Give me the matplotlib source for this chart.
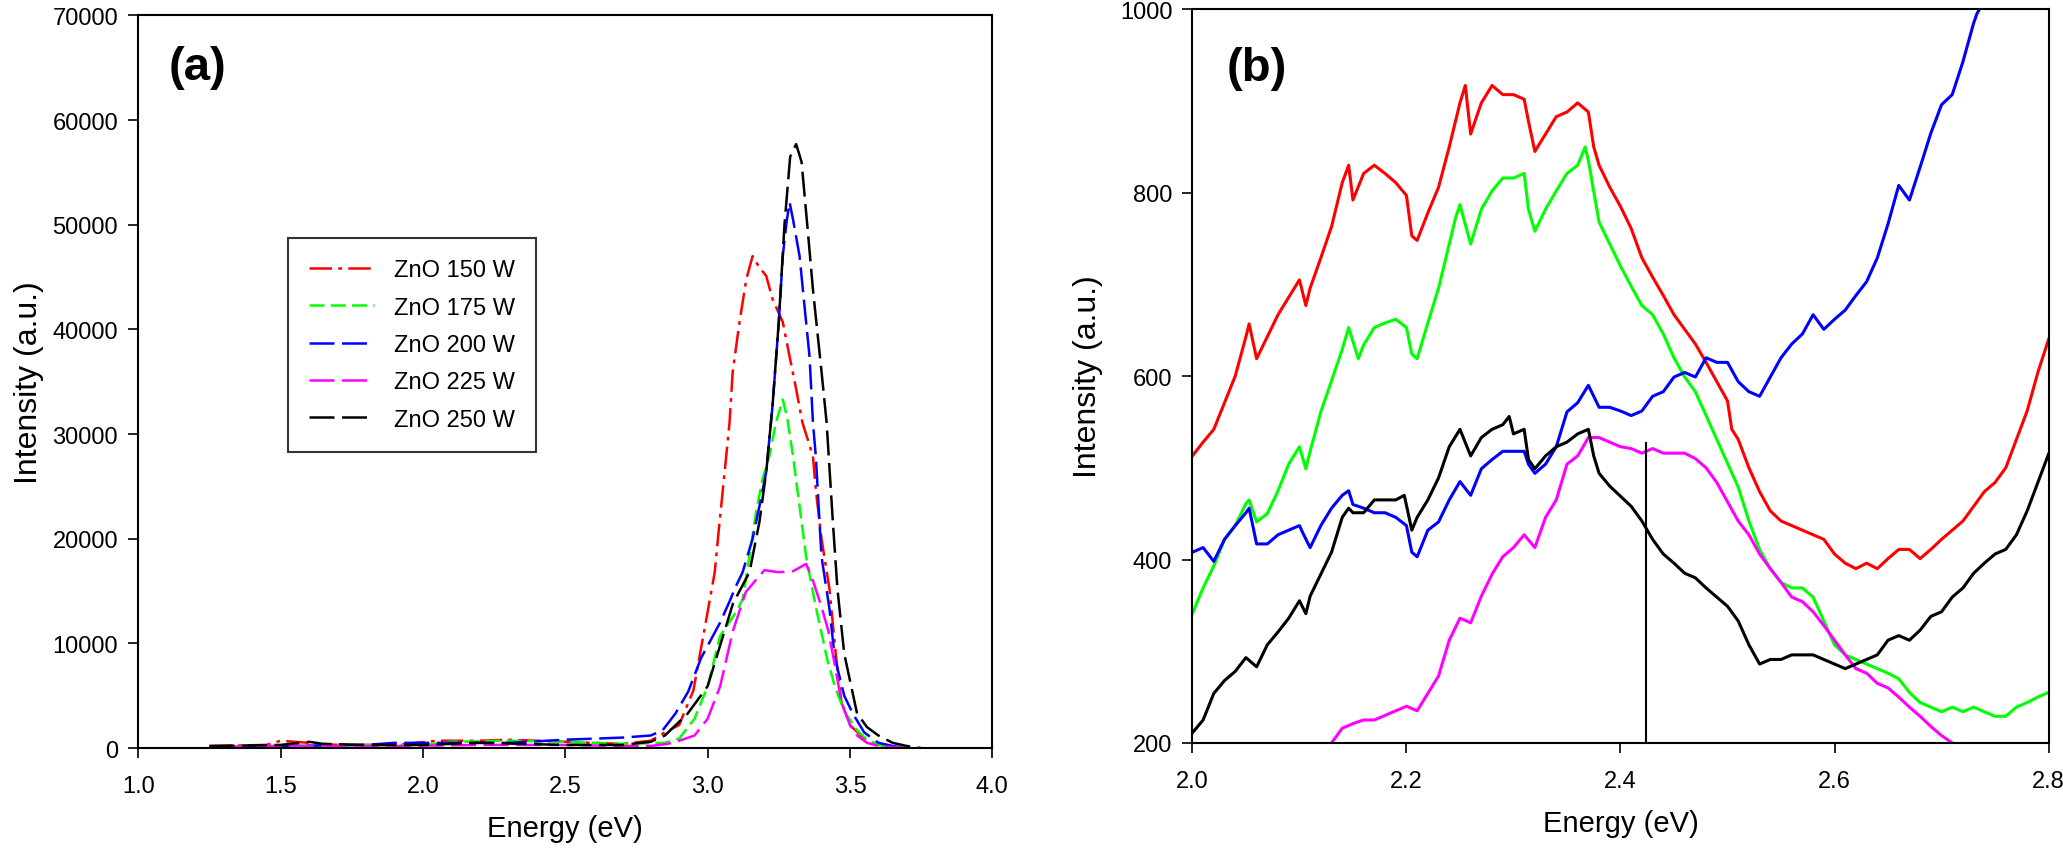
import matplotlib
matplotlib.use("Agg")
import matplotlib.pyplot as plt

plt.rcParams['font.family'] = ['Liberation Sans', 'DejaVu Sans']

# ---- panel (a): full PL spectra ----
labels_a = ['ZnO 150 W', 'ZnO 175 W', 'ZnO 200 W', 'ZnO 225 W', 'ZnO 250 W']

e_150 = [1.25, 1.45, 1.5, 1.55, 1.6, 1.7, 1.9, 2.05, 2.2, 2.3, 2.5, 2.7, 2.8, 2.85, 2.9, 2.95, 3.0,
         3.025, 3.042, 3.06, 3.077, 3.088, 3.112, 3.136, 3.158, 3.18, 3.206, 3.228, 3.264, 3.288,
         3.311, 3.333, 3.37, 3.38, 3.40, 3.428, 3.45, 3.47, 3.5, 3.55, 3.6, 3.65, 3.7]
i_150 = [200, 300, 700, 600, 500, 300, 300, 700, 700, 800, 600, 400, 700, 1500, 2200, 5500, 13000,
         16800, 21600, 26400, 31100, 35900, 40700, 44800, 47000, 46000, 45100, 42900, 40700, 37400,
         34300, 31100, 27900, 24700, 20000, 15200, 9000, 4400, 2200, 900, 300, 100, 0]

e_175 = [1.25, 1.5, 1.7, 2.0, 2.1, 2.3, 2.5, 2.7, 2.85, 2.9, 2.954, 3.0, 3.044, 3.1, 3.123, 3.147,
         3.17, 3.193, 3.217, 3.24, 3.264, 3.28, 3.30, 3.323, 3.346, 3.38, 3.42, 3.447, 3.48, 3.525,
         3.56, 3.6, 3.65, 3.7]
i_175 = [100, 200, 300, 300, 600, 700, 600, 400, 500, 900, 2800, 5900, 10700, 13000, 14200, 18300,
         22500, 25700, 27900, 31100, 33300, 31500, 27900, 23100, 18300, 13500, 8500, 5900, 3500, 1700,
         800, 300, 100, 0]

e_200 = [1.25, 1.5, 1.8, 1.9, 2.1, 2.3, 2.5, 2.7, 2.8, 2.842, 2.887, 2.932, 2.977, 3.044, 3.077,
         3.10, 3.123, 3.158, 3.182, 3.206, 3.228, 3.25, 3.264, 3.277, 3.288, 3.30, 3.323, 3.358, 3.37,
         3.38, 3.39, 3.40, 3.428, 3.447, 3.48, 3.51, 3.55, 3.6, 3.65, 3.7]
i_200 = [100, 200, 300, 500, 500, 500, 800, 1000, 1200, 1700, 3300, 5400, 8600, 12000, 14000,
         15500, 16800, 20000, 23100, 26400, 32700, 40700, 47000, 50200, 52150, 50500, 47000, 37400, 31100,
         27900, 23100, 18300, 13300, 8600, 5000, 3300, 1500, 500, 200, 0]

e_225 = [1.3, 1.4, 1.6, 1.9, 2.2, 2.5, 2.7, 2.8, 2.86, 2.9, 2.954, 3.0, 3.044, 3.089, 3.134, 3.18,
         3.2, 3.25, 3.30, 3.32, 3.346, 3.37, 3.40, 3.424, 3.45, 3.47, 3.5, 3.525, 3.56, 3.6, 3.65, 3.7]
i_225 = [100, 200, 200, 200, 300, 300, 200, 200, 400, 700, 1200, 2800, 5900, 11200, 14900, 16400,
         17000, 16800, 16900, 17200, 17600, 16000, 13500, 11200, 7500, 4400, 2200, 1200, 500, 200, 100, 0]

e_250 = [1.25, 1.5, 1.6, 1.65, 1.8, 2.0, 2.2, 2.5, 2.7, 2.8, 2.85, 2.93, 3.0, 3.089, 3.147, 3.182,
         3.206, 3.228, 3.25, 3.27, 3.29, 3.311, 3.33, 3.35, 3.37, 3.40, 3.418, 3.44, 3.456, 3.48,
         3.525, 3.56, 3.6, 3.65, 3.7, 3.75]
i_250 = [200, 300, 600, 400, 300, 300, 500, 300, 300, 600, 1200, 3300, 5900, 13800, 16800, 21600,
         26400, 32700, 40700, 50000, 56500, 57700, 56000, 50000, 43800, 36000, 31100, 21600, 15200, 9000,
         3300, 2000, 1200, 500, 200, 0]

# ---- panel (b): zoom of the visible band ----
e_red_b = [2.00, 2.01, 2.02, 2.03, 2.04, 2.05, 2.053, 2.06, 2.07, 2.08, 2.09, 2.10, 2.106, 2.11, 2.12,
           2.13, 2.14, 2.146, 2.15, 2.16, 2.17, 2.18, 2.19, 2.20, 2.205, 2.21, 2.22, 2.23, 2.24, 2.25,
           2.255, 2.26, 2.27, 2.28, 2.29, 2.30, 2.31, 2.314, 2.32, 2.33, 2.34, 2.35, 2.36, 2.37, 2.375,
           2.38, 2.39, 2.40, 2.41, 2.42, 2.43, 2.44, 2.45, 2.46, 2.47, 2.48, 2.49, 2.50, 2.504, 2.51,
           2.52, 2.53, 2.54, 2.55, 2.56, 2.57, 2.58, 2.59, 2.60, 2.61, 2.62, 2.63, 2.64, 2.65, 2.66,
           2.67, 2.68, 2.69, 2.70, 2.71, 2.72, 2.73, 2.74, 2.75, 2.76, 2.77, 2.78, 2.79, 2.80]
v_red_b = [513, 528, 542, 571, 600, 643, 657, 619, 643, 667, 686, 705, 677, 696, 729,
           763, 811, 830, 792, 821, 830, 821, 811, 797, 753, 748, 778, 806, 850, 898,
           917, 864, 898, 917, 907, 907, 902, 878, 845, 864, 883, 888, 898, 888, 850,
           830, 806, 785, 761, 729, 708, 688, 667, 651, 635, 615, 594, 573, 542, 531,
           500, 474, 453, 442, 437, 432, 427, 422, 406, 396, 390, 396, 390, 401, 411,
           411, 401, 411, 422, 432, 442, 458, 474, 484, 500, 531, 562, 604, 640]

e_green_b = [2.00, 2.01, 2.02, 2.03, 2.04, 2.05, 2.053, 2.06, 2.07, 2.08, 2.09, 2.10, 2.106, 2.11, 2.12,
             2.13, 2.14, 2.146, 2.15, 2.155, 2.16, 2.17, 2.18, 2.19, 2.20, 2.205, 2.21, 2.22, 2.23, 2.24,
             2.246, 2.25, 2.26, 2.27, 2.28, 2.29, 2.30, 2.31, 2.314, 2.32, 2.33, 2.34, 2.35, 2.36, 2.367,
             2.37, 2.38, 2.39, 2.40, 2.41, 2.42, 2.43, 2.44, 2.45, 2.46, 2.47, 2.48, 2.49, 2.50, 2.51,
             2.52, 2.53, 2.54, 2.55, 2.56, 2.57, 2.58, 2.59, 2.60, 2.61, 2.62, 2.63, 2.64, 2.65, 2.66,
             2.67, 2.68, 2.69, 2.70, 2.71, 2.72, 2.73, 2.74, 2.75, 2.76, 2.77, 2.78, 2.79, 2.80]
v_green_b = [341, 369, 393, 422, 437, 461, 465, 441, 450, 475, 504, 523, 499, 518, 561,
             595, 629, 653, 638, 619, 634, 653, 658, 662, 653, 624, 619, 658, 696, 744,
             773, 787, 744, 782, 802, 816, 816, 821, 782, 758, 782, 802, 821, 830, 850,
             835, 768, 744, 720, 698, 677, 667, 646, 620, 599, 583, 557, 531, 505, 479,
             442, 411, 390, 375, 369, 369, 359, 333, 307, 296, 291, 286, 281, 276, 270,
             255, 244, 239, 234, 239, 234, 239, 234, 229, 229, 239, 244, 250, 255]

e_blue_b = [2.00, 2.01, 2.02, 2.03, 2.04, 2.05, 2.053, 2.06, 2.07, 2.08, 2.09, 2.10, 2.104, 2.11, 2.12,
            2.13, 2.14, 2.146, 2.15, 2.16, 2.17, 2.18, 2.19, 2.20, 2.205, 2.21, 2.22, 2.23, 2.24, 2.25,
            2.26, 2.27, 2.28, 2.29, 2.30, 2.31, 2.314, 2.32, 2.33, 2.34, 2.35, 2.36, 2.37, 2.38, 2.39,
            2.40, 2.41, 2.42, 2.43, 2.44, 2.45, 2.46, 2.47, 2.48, 2.49, 2.50, 2.51, 2.52, 2.53, 2.54,
            2.55, 2.56, 2.57, 2.58, 2.59, 2.60, 2.61, 2.62, 2.63, 2.64, 2.65, 2.66, 2.67, 2.68, 2.69,
            2.70, 2.71, 2.72, 2.73, 2.733, 2.74]
v_blue_b = [408, 413, 398, 422, 437, 451, 456, 417, 417, 427, 432, 437, 427, 413, 437,
            456, 470, 475, 460, 456, 451, 451, 446, 437, 408, 403, 432, 441, 465, 485,
            470, 499, 509, 518, 518, 518, 504, 494, 504, 523, 561, 571, 590, 566, 566,
            562, 557, 562, 578, 583, 599, 604, 599, 620, 615, 615, 594, 583, 578, 599,
            620, 635, 646, 667, 651, 662, 672, 688, 703, 729, 766, 808, 792, 828, 865,
            896, 907, 943, 985, 995, 1010]

e_magenta_b = [2.13, 2.14, 2.15, 2.16, 2.17, 2.18, 2.19, 2.20, 2.21, 2.22, 2.23, 2.24, 2.25, 2.26, 2.27,
               2.28, 2.29, 2.30, 2.31, 2.32, 2.33, 2.34, 2.35, 2.36, 2.37, 2.38, 2.39, 2.40, 2.41, 2.42,
               2.43, 2.44, 2.45, 2.46, 2.47, 2.48, 2.49, 2.50, 2.51, 2.52, 2.53, 2.54, 2.55, 2.56, 2.57,
               2.58, 2.59, 2.60, 2.61, 2.62, 2.63, 2.64, 2.65, 2.66, 2.67, 2.68, 2.69, 2.70, 2.71]
v_magenta_b = [200, 216, 221, 225, 225, 230, 235, 240, 235, 254, 273, 312, 336, 331, 360,
               384, 403, 413, 427, 413, 446, 465, 504, 513, 533, 533, 528, 523, 521, 516,
               521, 516, 516, 516, 510, 500, 484, 463, 442, 427, 406, 390, 375, 359, 354,
               343, 328, 312, 296, 281, 276, 265, 260, 250, 239, 229, 218, 208, 200]

e_black_b = [2.00, 2.01, 2.02, 2.03, 2.04, 2.05, 2.06, 2.07, 2.08, 2.09, 2.10, 2.106, 2.11, 2.12, 2.13,
             2.14, 2.146, 2.15, 2.16, 2.17, 2.18, 2.19, 2.198, 2.205, 2.21, 2.22, 2.23, 2.24, 2.25, 2.26,
             2.27, 2.28, 2.29, 2.296, 2.30, 2.31, 2.314, 2.32, 2.33, 2.34, 2.35, 2.36, 2.37, 2.375, 2.38,
             2.39, 2.40, 2.41, 2.42, 2.43, 2.44, 2.45, 2.46, 2.47, 2.48, 2.49, 2.50, 2.51, 2.52, 2.53,
             2.54, 2.55, 2.56, 2.57, 2.58, 2.59, 2.60, 2.61, 2.62, 2.63, 2.64, 2.65, 2.66, 2.67, 2.68,
             2.69, 2.70, 2.71, 2.72, 2.73, 2.74, 2.75, 2.76, 2.77, 2.78, 2.79, 2.80]
v_black_b = [211, 225, 254, 268, 278, 293, 283, 307, 321, 336, 355, 341, 360, 384, 408,
             446, 456, 451, 451, 465, 465, 465, 470, 432, 446, 465, 489, 523, 542, 513,
             533, 542, 547, 556, 537, 542, 509, 499, 513, 523, 528, 537, 542, 513, 494,
             480, 469, 458, 442, 422, 406, 396, 385, 380, 369, 359, 349, 333, 307, 286,
             291, 291, 296, 296, 296, 291, 286, 281, 286, 291, 296, 312, 317, 312, 323,
             338, 343, 359, 369, 385, 396, 406, 411, 427, 453, 484, 515]

marker_e = [2.424, 2.424]
marker_v = [200, 527]

colors = ['#ff0000', '#00ff00', '#0000ff', '#ff00ff', '#000000']
dash_styles = [(0, (9, 2.5, 1.5, 2.5)), (0, (6, 2.5)), (0, (10, 3)), (0, (10, 3)), (0, (10, 3))]

fig = plt.figure(figsize=(20.63, 8.62), dpi=100)
ax1 = fig.add_axes([0.067, 0.131, 0.414, 0.850])
ax2 = fig.add_axes([0.578, 0.137, 0.415, 0.851])

series_a = [(e_150, i_150), (e_175, i_175), (e_200, i_200), (e_225, i_225), (e_250, i_250)]
for (xs, ys), c, ls, lab in zip(series_a, colors, dash_styles, labels_a):
    ax1.plot(xs, ys, color=c, linestyle=ls, linewidth=1.8, label=lab)

ax1.set_xlim(1.0, 4.0)
ax1.set_ylim(0, 70000)
ax1.set_xticks([1.0, 1.5, 2.0, 2.5, 3.0, 3.5, 4.0])
ax1.set_xticklabels(['1.0', '1.5', '2.0', '2.5', '3.0', '3.5', '4.0'])
ax1.set_yticks(range(0, 70001, 10000))
ax1.set_xlabel('Energy (eV)', fontsize=21, labelpad=12)
ax1.set_ylabel('Intensity (a.u.)', fontsize=23, labelpad=6)
ax1.text(0.036, 0.93, '(a)', transform=ax1.transAxes, fontsize=34, fontweight='bold', va='center')
leg = ax1.legend(loc='upper left', bbox_to_anchor=(0.175, 0.696), frameon=True, fontsize=17,
                 fancybox=False, edgecolor='black', handlelength=2.75, labelspacing=0.65,
                 borderpad=0.9, handletextpad=0.85, borderaxespad=0)
leg.get_frame().set_linewidth(1.5)

series_b = [(e_red_b, v_red_b), (e_green_b, v_green_b), (e_blue_b, v_blue_b),
            (e_magenta_b, v_magenta_b), (e_black_b, v_black_b)]
for (xs, ys), c in zip(series_b, colors):
    ax2.plot(xs, ys, color=c, linewidth=2.2)
ax2.plot(marker_e, marker_v, color='black', linewidth=1.5)

ax2.set_xlim(2.0, 2.8)
ax2.set_ylim(200, 1000)
ax2.set_xticks([2.0, 2.2, 2.4, 2.6, 2.8])
ax2.set_xticklabels(['2.0', '2.2', '2.4', '2.6', '2.8'])
ax2.set_yticks([200, 400, 600, 800, 1000])
ax2.set_xlabel('Energy (eV)', fontsize=21, labelpad=12)
ax2.set_ylabel('Intensity (a.u.)', fontsize=23, labelpad=12)
ax2.text(0.04, 0.92, '(b)', transform=ax2.transAxes, fontsize=34, fontweight='bold', va='center')

for ax in (ax1, ax2):
    ax.tick_params(axis='both', direction='out', length=7.5, width=1.2, labelsize=17,
                   top=False, right=False)
    ax.tick_params(axis='x', pad=12)
    ax.tick_params(axis='y', pad=7)
    for sp in ax.spines.values():
        sp.set_linewidth(1.5)

fig.savefig('out.png', dpi=100)
